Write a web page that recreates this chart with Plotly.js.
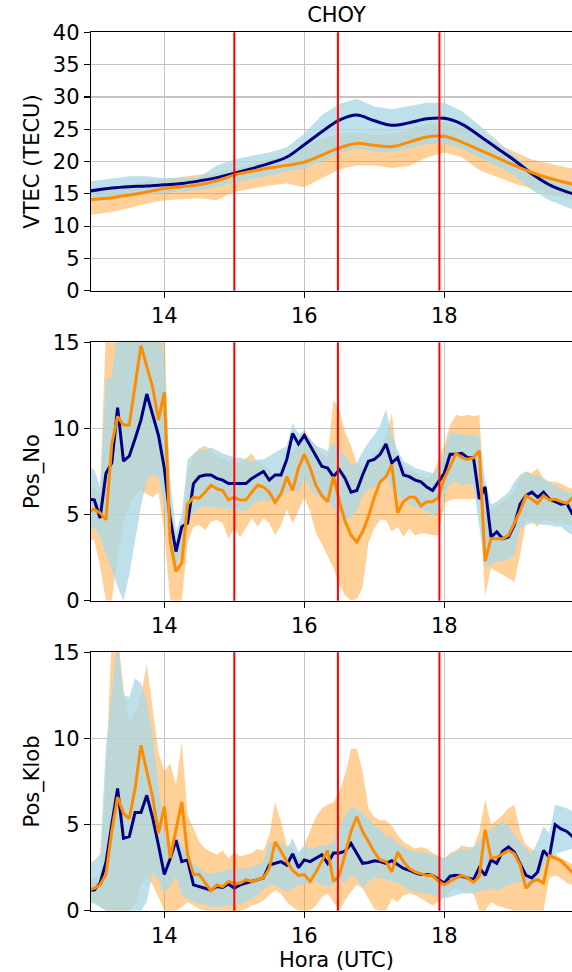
<!DOCTYPE html>
<html>
<head>
<meta charset="utf-8">
<script src="https://cdn.plot.ly/plotly-3.0.1.min.js"></script>
<style>
html,body{margin:0;padding:0;overflow:hidden;background:#fff;}
#chart{width:582px;height:972px;}
</style>
</head>
<body>
<div id="chart"></div>
<script>
// ---------- data ----------
const stationName = "CHOY";
const eventTimes = [15.0, 16.48, 17.93];
const xTicks = [14, 16, 18];

// VTEC panel (hours UTC)
const tVtec = [12.92, 13.25, 13.5, 13.75, 14.0, 14.25, 14.5, 14.75, 15.0, 15.25, 15.5, 15.75, 16.0, 16.25, 16.5, 16.75, 17.0, 17.25, 17.5, 17.75, 18.0, 18.25, 18.5, 18.75, 19.0, 19.25, 19.5, 19.75, 19.97];
const vtecNavy   = [15.4, 15.9, 16.1, 16.2, 16.4, 16.6, 17.0, 17.5, 18.2, 18.9, 19.7, 20.7, 22.6, 24.6, 26.4, 27.2, 26.3, 25.6, 26.0, 26.6, 26.7, 25.8, 24.0, 22.1, 20.2, 18.1, 16.4, 15.3, 14.6];
const vtecOrange = [14.1, 14.4, 14.8, 15.3, 15.8, 16.1, 16.4, 17.0, 17.9, 18.5, 19.0, 19.4, 19.9, 21.0, 22.1, 22.8, 22.5, 22.3, 23.0, 23.8, 23.9, 23.0, 21.8, 20.6, 19.4, 18.3, 17.4, 16.7, 16.2];
const vtecBlueHi = [16.9, 17.4, 17.7, 17.7, 17.4, 17.4, 17.6, 19.4, 20.3, 20.9, 21.4, 22.2, 24.3, 27.2, 28.9, 29.7, 28.5, 28.1, 28.6, 29.1, 29.1, 27.8, 25.6, 23.3, 21.0, 18.6, 17.3, 16.5, 16.0];
const vtecBlueLo = [13.6, 14.2, 14.6, 14.9, 15.2, 15.4, 15.6, 16.0, 16.7, 17.2, 17.8, 18.4, 18.9, 20.0, 21.3, 22.0, 21.5, 21.4, 22.0, 22.7, 22.8, 22.0, 20.6, 19.3, 17.8, 15.6, 14.0, 12.9, 12.0];
const vtecOrHi   = [15.5, 16.0, 16.5, 17.0, 17.3, 17.6, 17.9, 18.3, 18.9, 19.6, 20.2, 21.0, 22.2, 23.4, 24.3, 24.5, 24.1, 24.3, 25.1, 25.8, 26.1, 25.3, 24.0, 22.8, 21.6, 20.3, 19.7, 19.1, 18.7];
const vtecOrLo   = [11.7, 12.2, 12.8, 13.5, 14.0, 14.2, 14.3, 14.0, 15.3, 15.8, 16.3, 16.6, 16.0, 17.4, 18.8, 19.4, 19.4, 19.0, 19.3, 20.6, 21.4, 20.7, 18.7, 17.6, 16.6, 15.8, 15.0, 14.2, 13.7];

// 5-minute epochs (hours UTC) for the positioning panels
const t5 = [12.917,
  13.0, 13.083, 13.167, 13.25, 13.333, 13.417, 13.5, 13.583, 13.667, 13.75, 13.833, 13.917,
  14.0, 14.083, 14.167, 14.25, 14.333, 14.417, 14.5, 14.583, 14.667, 14.75, 14.833, 14.917,
  15.0, 15.083, 15.167, 15.25, 15.333, 15.417, 15.5, 15.583, 15.667, 15.75, 15.833, 15.917,
  16.0, 16.083, 16.167, 16.25, 16.333, 16.417, 16.5, 16.583, 16.667, 16.75, 16.833, 16.917,
  17.0, 17.083, 17.167, 17.25, 17.333, 17.417, 17.5, 17.583, 17.667, 17.75, 17.833, 17.917,
  18.0, 18.083, 18.167, 18.25, 18.333, 18.417, 18.5, 18.583, 18.667, 18.75, 18.833, 18.917,
  19.0, 19.083, 19.167, 19.25, 19.333, 19.417, 19.5, 19.583, 19.667, 19.75, 19.833];

// Pos_No
const noNavy = [5.9, 5.85, 4.8, 7.4, 8.0, 11.2, 8.1, 8.4, 9.4, 10.5, 12.0, 10.8, 9.6,
  7.7, 4.8, 2.85, 4.3, 4.5, 6.8, 7.2, 7.3, 7.3, 7.1, 7.0, 6.8,
  6.8, 6.8, 6.8, 7.1, 7.3, 7.5, 7.0, 7.3, 7.3, 8.2, 9.7, 9.1,
  9.6, 9.0, 8.4, 7.8, 7.7, 7.2, 7.6, 7.1, 6.3, 6.4, 7.3, 8.1,
  8.2, 8.5, 9.1, 8.0, 8.3, 7.3, 7.2, 7.0, 6.9, 6.6, 6.4, 6.9,
  7.4, 8.5, 8.5, 8.55, 8.3, 8.3, 5.9, 6.6, 3.7, 4.0, 3.6, 3.7,
  4.4, 5.6, 6.1, 6.3, 6.0, 6.3, 5.9, 5.75, 5.6, 5.65, 5.0];
const noOrange = [5.2, 5.3, 5.1, 4.7, 9.1, 10.7, 10.2, 10.2, 12.5, 14.8, 13.6, 12.4, 10.5,
  12.1, 3.5, 1.7, 2.2, 5.6, 6.0, 5.95, 6.3, 6.7, 6.5, 6.4, 5.85,
  6.0, 5.85, 5.85, 6.3, 6.7, 6.6, 6.3, 5.7, 6.2, 7.2, 6.4, 7.7,
  8.5, 7.7, 6.7, 6.1, 5.75, 7.2, 5.8, 4.6, 3.8, 3.4, 4.0, 4.9,
  6.0, 6.9, 7.2, 7.9, 5.1, 5.75, 6.0, 6.0, 5.5, 5.75, 5.75, 6.0,
  7.1, 7.8, 8.55, 8.3, 8.2, 8.3, 8.7, 2.3, 3.6, 3.6, 3.6, 3.8,
  4.5, 5.2, 6.1, 5.9, 5.65, 6.1, 5.85, 5.9, 5.75, 5.65, 6.0];
const noBlueHi = [7.8, 7.6, 6.6, 12.8, 13.0, 16, 16, 16, 16, 16, 16, 16, 16,
  14, 7.0, 4.0, 5.0, 8.2, 8.55, 8.75, 8.75, 8.9, 8.75, 8.55, 8.45,
  8.3, 8.3, 8.2, 8.1, 8.2, 8.2, 8.4, 8.6, 8.8, 9.0, 10.3, 9.7,
  9.8, 9.4, 9.0, 8.85, 8.7, 9.2, 8.85, 8.45, 7.9, 8.0, 8.65, 9.2,
  9.6, 10.2, 11.1, 9.6, 8.75, 8.1, 7.9, 7.7, 7.6, 7.5, 7.4, 7.8,
  8.6, 9.8, 9.7, 9.65, 9.6, 9.6, 9.5, 7.0, 5.6, 5.75, 6.0, 6.3,
  6.9, 7.3, 7.5, 7.3, 7.3, 7.1, 6.9, 6.7, 6.5, 6.3, 6.3];
const noBlueLo = [4.4, 4.2, 3.7, 2.8, 1.8, 0.8, 0.0, 1.5, 3.5, 5.5, 7.0, 7.3, 7.2,
  5.5, 3.0, 1.8, 3.0, 4.6, 5.1, 5.35, 5.45, 5.45, 5.45, 5.35, 5.35,
  5.25, 5.25, 5.2, 5.55, 5.75, 5.85, 5.75, 5.95, 6.15, 6.3, 6.5, 6.3,
  7.1, 6.5, 6.15, 5.95, 5.75, 5.4, 5.0, 4.7, 4.8, 5.25, 6.1, 6.5,
  6.6, 6.7, 7.1, 6.5, 6.1, 5.85, 5.55, 5.45, 5.3, 5.2, 4.95, 5.15,
  6.2, 6.8, 6.9, 6.7, 6.8, 6.7, 4.4, 1.9, 2.1, 2.3, 2.3, 2.4,
  2.65, 4.2, 4.4, 4.5, 4.5, 4.4, 4.4, 4.3, 4.3, 4.0, 3.8];
const noOrHi = [6.8, 6.5, 6.2, 16, 16, 16, 16, 16, 16, 16, 16, 16, 16,
  16, 6.0, 2.7, 4.0, 7.5, 8.5, 8.85, 9.0, 8.75, 8.4, 8.3, 8.1,
  8.2, 8.0, 8.3, 8.55, 8.0, 7.9, 7.6, 7.2, 7.6, 8.4, 8.6, 9.3,
  10.0, 9.4, 9.0, 8.6, 8.3, 11.7, 11.0, 9.8, 9.0, 8.0, 7.8, 8.2,
  8.5, 9.0, 9.5, 10.9, 7.9, 7.8, 7.5, 7.5, 7.2, 7.1, 7.3, 8.2,
  9.0, 10.2, 10.8, 10.7, 10.8, 10.7, 10.8, 5.5, 5.4, 5.5, 5.7, 6.0,
  6.3, 7.3, 7.5, 7.4, 7.7, 7.1, 6.9, 6.9, 6.8, 6.6, 6.5];
const noOrLo = [3.6, 3.5, 2.0, 0, 0, 2.5, 4.5, 5.5, 6.2, 6.4, 6.2, 6.0, 6.3,
  4.0, 0, 0, 0, 3.4, 4.3, 4.4, 4.1, 4.6, 4.7, 4.5, 3.6,
  4.2, 3.7, 4.2, 4.8, 4.3, 4.8, 4.5, 3.8, 4.4, 5.3, 4.5, 5.3,
  6.0, 5.2, 3.9, 3.3, 2.6, 1.9, 0.9, 0.3, 0, 0.1, 0.8, 3.4,
  4.2, 4.7, 4.7, 4.0, 4.3, 3.7, 4.2, 3.8, 3.9, 3.9, 3.8, 3.8,
  5.65, 5.85, 5.9, 5.9, 5.9, 5.9, 5.9, 0.3, 1.9, 1.7, 1.5, 1.3,
  1.1, 2.65, 4.6, 4.6, 4.3, 4.7, 4.6, 4.5, 4.5, 4.4, 4.4];

// Pos_Klob
const klNavy = [1.2, 1.2, 1.6, 2.8, 5.0, 7.1, 4.2, 4.3, 5.7, 5.7, 6.7, 5.4, 3.8,
  2.1, 3.0, 4.1, 2.85, 2.95, 1.5, 1.4, 1.3, 1.2, 1.4, 1.35, 1.55,
  1.3, 1.5, 1.6, 1.7, 1.8, 1.9, 2.65, 2.75, 2.85, 2.65, 3.3, 2.5,
  2.95, 2.85, 3.05, 3.25, 2.75, 3.35, 3.35, 3.45, 3.9, 3.3, 2.75, 2.8,
  2.9, 2.85, 2.75, 2.9, 2.65, 2.45, 2.35, 2.2, 2.1, 2.1, 2.05, 1.8,
  1.6, 2.0, 2.05, 2.0, 1.9, 1.8, 2.5, 2.05, 2.95, 2.75, 3.45, 3.7,
  3.4, 2.75, 2.05, 1.9, 2.25, 3.5, 3.1, 5.0, 4.75, 4.6, 4.3];
const klOrange = [1.2, 1.3, 1.5, 2.1, 4.6, 6.6, 5.65, 5.35, 7.1, 9.6, 8.1, 6.6, 4.5,
  6.05, 3.05, 4.7, 6.3, 3.25, 2.1, 2.1, 1.6, 1.15, 1.5, 1.4, 1.7,
  1.6, 1.6, 1.8, 1.7, 1.8, 1.9, 2.45, 4.0, 3.45, 2.85, 2.35, 2.05,
  2.1, 1.7, 2.25, 2.85, 3.5, 1.7, 2.05, 3.25, 4.6, 5.45, 4.6, 4.0,
  3.4, 2.95, 2.85, 2.25, 3.4, 2.85, 2.45, 2.25, 2.15, 2.05, 2.05, 1.7,
  1.5, 1.7, 1.9, 2.05, 1.9, 1.65, 2.0, 4.7, 3.05, 3.1, 3.3, 3.5,
  3.3, 2.65, 1.3, 1.7, 1.8, 1.6, 3.2, 3.05, 2.9, 2.55, 2.2];
const klBlueHi = [2.8, 2.9, 3.3, 9.5, 12.5, 16, 12.5, 12.4, 13.5, 13.2, 12.1, 10.2, 7.3,
  4.6, 3.4, 4.6, 3.8, 3.35, 2.75, 2.45, 2.25, 2.15, 2.25, 2.25, 2.45,
  2.35, 2.45, 2.45, 2.55, 2.65, 2.85, 4.0, 3.8, 4.0, 3.6, 4.2, 3.4,
  3.8, 3.6, 3.7, 3.8, 3.8, 4.0, 4.7, 5.55, 6.05, 5.95, 5.65, 5.35,
  4.95, 4.7, 4.3, 4.3, 3.9, 3.7, 3.5, 3.45, 3.4, 3.35, 3.25, 3.1,
  3.05, 3.25, 3.45, 3.6, 3.5, 3.7, 4.0, 4.6, 4.7, 4.95, 5.15, 4.9,
  4.4, 4.0, 3.6, 3.35, 4.0, 4.9, 4.5, 6.15, 6.05, 5.95, 5.75];
const klBlueLo = [0.5, 0.4, 0.2, 0, 0, 0, 0, 0, 0, 0, 0.5, 2.2, 1.8,
  1.0, 1.4, 2.0, 0.9, 0.7, 0.5, 0.4, 0.35, 0.25, 0.2, 0.25, 0.3,
  0.35, 0.4, 0.5, 0.7, 0.9, 1.2, 1.5, 1.5, 1.3, 1.1, 1.3, 1.5,
  1.5, 1.6, 1.7, 1.5, 1.4, 1.5, 1.6, 1.65, 2.05, 1.9, 1.3, 1.7,
  1.9, 1.9, 1.8, 1.7, 1.6, 1.4, 1.2, 1.1, 1.0, 1.0, 0.9, 0.8,
  0.7, 0.8, 0.9, 1.0, 1.0, 1.0, 1.1, 1.2, 1.3, 1.2, 1.3, 1.5,
  1.6, 1.7, 1.4, 1.3, 1.8, 2.6, 3.0, 3.3, 3.4, 3.5, 3.6];
const klOrHi = [1.8, 1.9, 2.2, 8.0, 16, 16, 12.9, 11.0, 11.5, 12.5, 14.3, 11.6, 9.2,
  8.1, 8.55, 7.3, 9.8, 5.55, 4.8, 4.0, 3.6, 3.4, 3.25, 3.5, 3.05,
  3.4, 3.15, 3.25, 3.35, 3.6, 3.5, 4.4, 6.3, 5.15, 3.8, 3.6, 3.05,
  3.8, 4.6, 5.45, 5.95, 6.15, 6.3, 6.9, 7.9, 9.4, 9.4, 8.1, 5.95,
  5.45, 5.25, 5.25, 4.9, 4.4, 4.0, 3.8, 3.6, 3.7, 3.6, 3.35, 3.2,
  3.05, 3.35, 3.5, 3.8, 3.7, 3.7, 4.6, 6.45, 5.0, 5.25, 5.55, 5.95,
  6.15, 4.6, 3.8, 3.6, 3.4, 3.4, 3.35, 3.3, 3.05, 2.9, 2.65];
const klOrLo = [0.6, 0.5, 0.3, 0, 0, 0, 0, 0, 0.3, 1.5, 2.0, 1.5, 0.8,
  0, 0, 0, 0.2, 0.5, 0.3, 0.1, 0, 0, 0, 0, 0,
  0, 0, 0.1, 0.3, 0.4, 0.6, 0.9, 1.2, 1.0, 0.5, 0.2, 0,
  0, 0, 0.3, 0.8, 1.0, 0.5, 0, 0.6, 1.1, 1.5, 1.3, 0.7,
  0.1, 0, 0, 0.7, 0.5, 0.9, 1.0, 0.9, 0.7, 0.5, 0.3, 0.5,
  0.8, 1.1, 1.3, 1.2, 1.1, 1.0, 0, 0, 0.5, 0.3, 0.2, 0.1,
  0, 0, 0, 0, 0, 0, 1.9, 2.05, 1.9, 1.6, 1.5];

// ---------- styles ----------
const NAVY = "#000080";
const ORANGE = "#ff8c00";
const BLUE_FILL = "rgba(173,216,230,0.8)";
const ORANGE_FILL = "rgba(255,140,0,0.4)";
const FONT = "DejaVu Sans, Liberation Sans, sans-serif";

function band(x, lo, hi, fill, xa, ya) {
  return [
    {x: x, y: lo, xaxis: xa, yaxis: ya, type: "scatter", mode: "lines",
     line: {width: 0, color: fill}, hoverinfo: "skip", showlegend: false},
    {x: x, y: hi, xaxis: xa, yaxis: ya, type: "scatter", mode: "lines",
     line: {width: 0, color: fill}, fill: "tonexty", fillcolor: fill,
     hoverinfo: "skip", showlegend: false}
  ];
}
function line(x, y, color, xa, ya, shape) {
  return {x: x, y: y, xaxis: xa, yaxis: ya, type: "scatter", mode: "lines",
          line: {color: color, width: 3, shape: shape || "linear", smoothing: 1},
          showlegend: false};
}

const traces = [].concat(
  band(tVtec, vtecOrLo, vtecOrHi, ORANGE_FILL, "x", "y"),
  band(tVtec, vtecBlueLo, vtecBlueHi, BLUE_FILL, "x", "y"),
  [line(tVtec, vtecNavy, NAVY, "x", "y", "spline"),
   line(tVtec, vtecOrange, ORANGE, "x", "y", "spline")],
  band(t5, noOrLo, noOrHi, ORANGE_FILL, "x2", "y2"),
  band(t5, noBlueLo, noBlueHi, BLUE_FILL, "x2", "y2"),
  [line(t5, noNavy, NAVY, "x2", "y2"), line(t5, noOrange, ORANGE, "x2", "y2")],
  band(t5, klOrLo, klOrHi, ORANGE_FILL, "x3", "y3"),
  band(t5, klBlueLo, klBlueHi, BLUE_FILL, "x3", "y3"),
  [line(t5, klNavy, NAVY, "x3", "y3"), line(t5, klOrange, ORANGE, "x3", "y3")]
);

const H = 972;
function dom(top, bottom) { return [1 - bottom / H, 1 - top / H]; }
const xRange = [12.953, 19.967];
function xax(anchor, withTitle) {
  const a = {
    anchor: anchor, domain: [0, 1], range: xRange, tickvals: xTicks,
    ticks: "outside", ticklen: 6, tickwidth: 1.2, tickcolor: "#000",
    showline: true, linecolor: "#000", linewidth: 1.2, mirror: true,
    showgrid: true, gridcolor: "#c4c4c4", gridwidth: 1.2, zeroline: false,
    tickfont: {size: 21, color: "#000", family: FONT}, fixedrange: true
  };
  if (withTitle) a.title = {text: "Hora (UTC)", font: {size: 21, color: "#000", family: FONT}, standoff: 6};
  return a;
}
function yax(anchor, domain, range, dtick, title) {
  return {
    anchor: anchor, domain: domain, range: range, dtick: dtick, tick0: 0,
    ticks: "outside", ticklen: 6, tickwidth: 1.2, tickcolor: "#000",
    showline: true, linecolor: "#000", linewidth: 1.2, mirror: true,
    showgrid: true, gridcolor: "#c4c4c4", gridwidth: 1.2, zeroline: false,
    tickfont: {size: 21, color: "#000", family: FONT}, fixedrange: true,
    title: {text: title, font: {size: 21, color: "#000", family: FONT}, standoff: 7}
  };
}

const shapes = [];
[["x", "y domain"], ["x2", "y2 domain"], ["x3", "y3 domain"]].forEach(function (p) {
  eventTimes.forEach(function (t) {
    shapes.push({type: "line", xref: p[0], yref: p[1], x0: t, x1: t, y0: 0, y1: 1,
                 line: {color: "#ff0000", width: 2}});
  });
});

const layout = {
  width: 582, height: H,
  margin: {l: 91, r: 0, t: 0, b: 0, autoexpand: false},
  paper_bgcolor: "#fff", plot_bgcolor: "#fff",
  font: {family: FONT, color: "#000", size: 21},
  showlegend: false,
  title: {text: stationName, font: {size: 21, color: "#000", family: FONT},
          x: 0.5, xref: "paper", xanchor: "center", y: 1 - 15 / H, yref: "container", yanchor: "middle"},
  xaxis: xax("y", false),
  xaxis2: xax("y2", false),
  xaxis3: xax("y3", true),
  yaxis: yax("x", dom(32.3, 290.7), [0, 40], 5, "VTEC (TECU)"),
  yaxis2: yax("x2", dom(342.3, 600.7), [0, 15], 5, "Pos_No"),
  yaxis3: yax("x3", dom(652.3, 910.7), [0, 15], 5, "Pos_Klob"),
  shapes: shapes
};

Plotly.newPlot("chart", traces, layout, {displayModeBar: false, staticPlot: true});
</script>
</body>
</html>
